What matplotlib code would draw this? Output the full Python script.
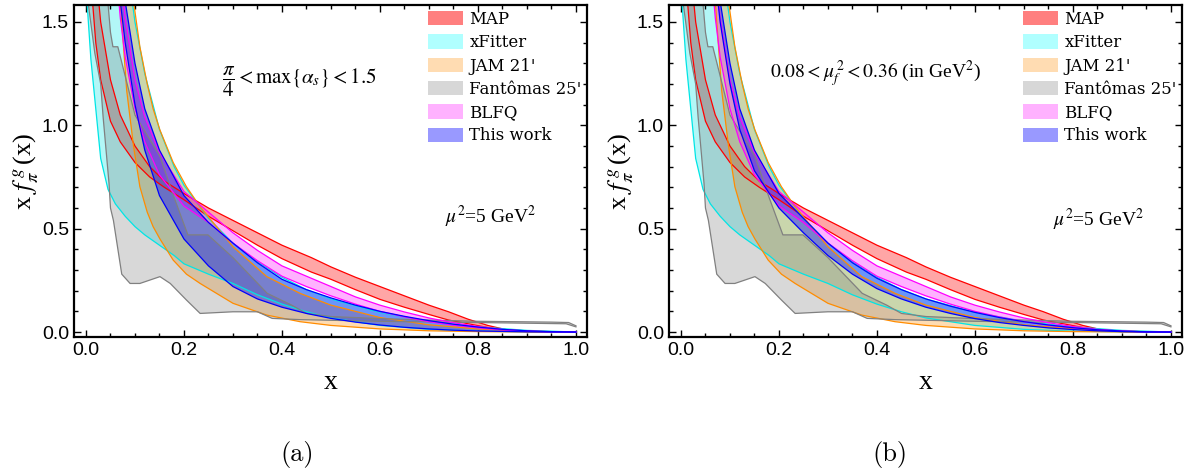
import matplotlib
matplotlib.use("Agg")
import matplotlib.pyplot as plt
from matplotlib.patches import Patch
import numpy as np

# ---- data (x, x f_pi^g(x)) ----
map_x = [0.01, 0.02, 0.03, 0.05, 0.07, 0.10, 0.13, 0.16, 0.20, 0.25, 0.30, 0.35, 0.40, 0.46,
         0.50, 0.55, 0.60, 0.65, 0.70, 0.74, 0.78, 0.82, 0.86, 0.90, 1.00]
map_hi = [2.20, 1.75, 1.50, 1.22, 1.05, 0.90, 0.80, 0.73, 0.67, 0.60, 0.54, 0.48, 0.42, 0.36,
          0.315, 0.265, 0.22, 0.175, 0.13, 0.098, 0.062, 0.032, 0.010, 0.002, 0.0]
map_lo = [1.70, 1.40, 1.22, 1.02, 0.92, 0.82, 0.75, 0.70, 0.64, 0.56, 0.49, 0.42, 0.355, 0.29,
          0.255, 0.205, 0.158, 0.12, 0.085, 0.058, 0.040, 0.022, 0.008, 0.002, 0.0]

xf_x = [0.002, 0.01, 0.02, 0.03, 0.045, 0.06, 0.08, 0.10, 0.12, 0.15, 0.18, 0.20, 0.25, 0.30,
        0.35, 0.40, 0.45, 0.50, 0.60, 0.70, 0.80, 0.90, 1.00]
xf_hi = [9.0, 6.0, 4.5, 3.5, 2.8, 2.4, 1.85, 1.50, 1.25, 0.98, 0.80, 0.71, 0.55, 0.43,
         0.34, 0.265, 0.205, 0.16, 0.095, 0.052, 0.025, 0.008, 0.0]
xf_lo = [1.60, 1.32, 1.08, 0.84, 0.69, 0.62, 0.56, 0.51, 0.47, 0.42, 0.37, 0.33, 0.28, 0.235,
         0.18, 0.135, 0.098, 0.068, 0.032, 0.013, 0.004, 0.001, 0.0]

jam_x = [0.06, 0.07, 0.083, 0.097, 0.11, 0.125, 0.137, 0.151, 0.178, 0.205, 0.233, 0.30, 0.369,
         0.437, 0.50, 0.60, 0.70, 0.80, 0.90, 1.00]
jam_hi = [2.60, 2.30, 1.95, 1.60, 1.38, 1.20, 1.08, 0.977, 0.82, 0.703, 0.606, 0.413, 0.268,
          0.187, 0.13, 0.07, 0.035, 0.015, 0.004, 0.0]
jam_lo = [2.00, 1.60, 1.17, 0.90, 0.703, 0.58, 0.51, 0.45, 0.348, 0.28, 0.235, 0.139, 0.082,
          0.05, 0.032, 0.015, 0.006, 0.002, 0.0005, 0.0]

fan_up_x = [0.03, 0.05, 0.055, 0.065, 0.10, 0.151, 0.18, 0.208, 0.249, 0.30, 0.37, 0.42, 0.45,
            0.50, 0.60, 0.70, 0.80, 0.95, 0.985, 1.00]
fan_up_y = [2.00, 1.45, 1.38, 1.38, 1.05, 0.85, 0.65, 0.47, 0.47, 0.36, 0.187, 0.13, 0.09,
            0.075, 0.065, 0.058, 0.052, 0.048, 0.046, 0.030]
fan_lo_x = [0.004, 0.018, 0.03, 0.035, 0.047, 0.05, 0.056, 0.073, 0.09, 0.11, 0.151, 0.172,
            0.205, 0.233, 0.30, 0.35, 0.38, 0.437, 0.60, 0.80, 0.98, 1.00]
fan_lo_y = [1.60, 1.35, 1.20, 1.04, 0.72, 0.60, 0.54, 0.28, 0.235, 0.235, 0.268, 0.235,
            0.155, 0.09, 0.098, 0.098, 0.066, 0.060, 0.052, 0.046, 0.040, 0.025]

blfq_x = [0.05, 0.06, 0.07, 0.08, 0.10, 0.12, 0.15, 0.20, 0.25, 0.30, 0.35, 0.40, 0.45, 0.50,
          0.55, 0.60, 0.65, 0.70, 0.75, 0.80, 0.85, 0.90, 0.95, 1.00]
blfq_hi = [2.60, 2.10, 1.75, 1.52, 1.22, 1.04, 0.87, 0.68, 0.58, 0.48, 0.395, 0.32, 0.27, 0.22,
           0.17, 0.13, 0.097, 0.068, 0.045, 0.027, 0.013, 0.005, 0.001, 0.0]
blfq_lo = [2.20, 1.80, 1.52, 1.33, 1.08, 0.92, 0.76, 0.61, 0.53, 0.43, 0.345, 0.27, 0.22, 0.175,
           0.135, 0.10, 0.073, 0.05, 0.033, 0.02, 0.01, 0.004, 0.001, 0.0]

tw_x = [0.06, 0.07, 0.08, 0.10, 0.12, 0.15, 0.20, 0.25, 0.30, 0.35, 0.40, 0.45, 0.50, 0.55,
        0.60, 0.65, 0.70, 0.75, 0.80, 0.85, 0.90, 0.95, 1.00]
# panel (a): pi/4 < max{alpha_s} < 1.5
tw_a_hi = [2.20, 1.85, 1.60, 1.30, 1.08, 0.88, 0.66, 0.53, 0.43, 0.335, 0.255, 0.205, 0.165, 0.13,
           0.10, 0.076, 0.055, 0.038, 0.024, 0.013, 0.006, 0.002, 0.0]
tw_a_lo = [1.90, 1.60, 1.40, 1.10, 0.88, 0.66, 0.45, 0.32, 0.22, 0.16, 0.12, 0.09, 0.066, 0.048,
           0.034, 0.023, 0.015, 0.009, 0.005, 0.003, 0.001, 0.0, 0.0]
# panel (b): 0.08 < mu_f^2 < 0.36
tw_b_hi = [2.20, 1.85, 1.60, 1.30, 1.08, 0.88, 0.67, 0.55, 0.43, 0.335, 0.26, 0.205, 0.16, 0.125,
           0.095, 0.07, 0.05, 0.034, 0.021, 0.011, 0.005, 0.001, 0.0]
tw_b_lo = [2.05, 1.72, 1.50, 1.20, 0.98, 0.78, 0.60, 0.48, 0.37, 0.28, 0.21, 0.16, 0.12, 0.09,
           0.065, 0.046, 0.032, 0.02, 0.012, 0.006, 0.002, 0.0, 0.0]

labels = ["MAP", "xFitter", "JAM 21'", "Fantômas 25'", "BLFQ", "This work"]
edge_colors = ["#ff0000", "#00e5e5", "#ff8c00", "#808080", "#ff00ff", "#0000ff"]
swatch_colors = ["#ff0000", "#00ffff", "#ff8c00", "#808080", "#ff00ff", "#0000ff"]
fill_alpha = [0.35, 0.3, 0.3, 0.3, 0.3, 0.4]
legend_alpha = [0.5, 0.31, 0.3, 0.31, 0.3, 0.4]


def band(ax, xu, yu, xl, yl, color, alpha):
    px = np.concatenate((xu, xl[::-1]))
    py = np.concatenate((yu, yl[::-1]))
    ax.fill(px, py, color=color, alpha=alpha, lw=0)
    ax.plot(xu, yu, color=color, lw=0.9)
    ax.plot(xl, yl, color=color, lw=0.9)


def draw_panel(ax, tw_hi, tw_lo, note, note_xy, note_size):
    a = np.asarray
    band(ax, a(map_x), a(map_hi), a(map_x), a(map_lo), edge_colors[0], fill_alpha[0])
    band(ax, a(xf_x), a(xf_hi), a(xf_x), a(xf_lo), edge_colors[1], fill_alpha[1])
    band(ax, a(jam_x), a(jam_hi), a(jam_x), a(jam_lo), edge_colors[2], fill_alpha[2])
    band(ax, a(fan_up_x), a(fan_up_y), a(fan_lo_x), a(fan_lo_y), edge_colors[3], fill_alpha[3])
    band(ax, a(blfq_x), a(blfq_hi), a(blfq_x), a(blfq_lo), edge_colors[4], fill_alpha[4])
    band(ax, a(tw_x), a(tw_hi), a(tw_x), a(tw_lo), edge_colors[5], fill_alpha[5])

    ax.set_xlim(-0.0245, 1.0225)
    ax.set_ylim(-0.024, 1.582)
    ax.set_xticks([0.0, 0.2, 0.4, 0.6, 0.8, 1.0])
    ax.set_xticks(np.arange(0, 1.001, 0.05), minor=True)
    ax.set_yticks([0.0, 0.5, 1.0, 1.5])
    ax.set_yticks(np.arange(0, 1.55, 0.1), minor=True)
    ax.tick_params(which="both", direction="in", top=True, right=True, width=1.0,
                   labelsize=14)
    ax.tick_params(which="major", length=5)
    ax.tick_params(which="minor", length=3)
    for lab in ax.get_xticklabels() + ax.get_yticklabels():
        lab.set_fontfamily("Liberation Sans")
    for s in ax.spines.values():
        s.set_linewidth(1.6)

    ax.set_xlabel("x", fontfamily="Liberation Serif", fontsize=20, labelpad=8)
    ax.set_ylabel(r"x $f_{\pi}^{\,g}\,$(x)", fontfamily="Liberation Serif",
                  math_fontfamily="stix", fontsize=19, labelpad=1)

    handles = [Patch(facecolor=c, alpha=al, edgecolor="none")
               for c, al in zip(swatch_colors, legend_alpha)]
    ax.legend(handles, labels, loc="upper left", bbox_to_anchor=(0.690, 0.982),
              frameon=False, prop={"family": "DejaVu Serif", "size": 11.9},
              handlelength=2.15, handleheight=0.95, handletextpad=0.36,
              labelspacing=0.38, borderaxespad=0.0, borderpad=0.0)

    ax.text(note_xy[0], note_xy[1], note, fontsize=note_size, math_fontfamily="stix",
            fontfamily="Liberation Serif", ha="left", va="center")


fig = plt.figure(figsize=(11.95, 4.71), dpi=100)
ax_a = fig.add_axes([0.0619, 0.2845, 0.4293, 0.7049])
ax_b = fig.add_axes([0.5598, 0.2845, 0.4293, 0.7049])

draw_panel(ax_a, tw_a_hi, tw_a_lo,
           r"$\dfrac{\pi}{4} < \mathrm{max}\{\alpha_s\} < 1.5$", (0.278, 1.21), 15)
draw_panel(ax_b, tw_b_hi, tw_b_lo,
           r"$0.08 < \mu_f^{\,2} < 0.36$ (in GeV$^2$)", (0.182, 1.25), 14)

for ax, xy in ((ax_a, (0.733, 0.556)), (ax_b, (0.759, 0.54))):
    ax.text(xy[0], xy[1], r"$\mu^2$=5 GeV$^2$", fontsize=14, fontfamily="Liberation Serif",
            math_fontfamily="stix", ha="left", va="center")

fig.text(297 / 1195, 1 - 455 / 471, "(a)", fontfamily="cmr10", fontsize=19,
         ha="center", va="center")
fig.text(890 / 1195, 1 - 455 / 471, "(b)", fontfamily="cmr10", fontsize=19,
         ha="center", va="center")

fig.savefig("out.png", dpi=100)
